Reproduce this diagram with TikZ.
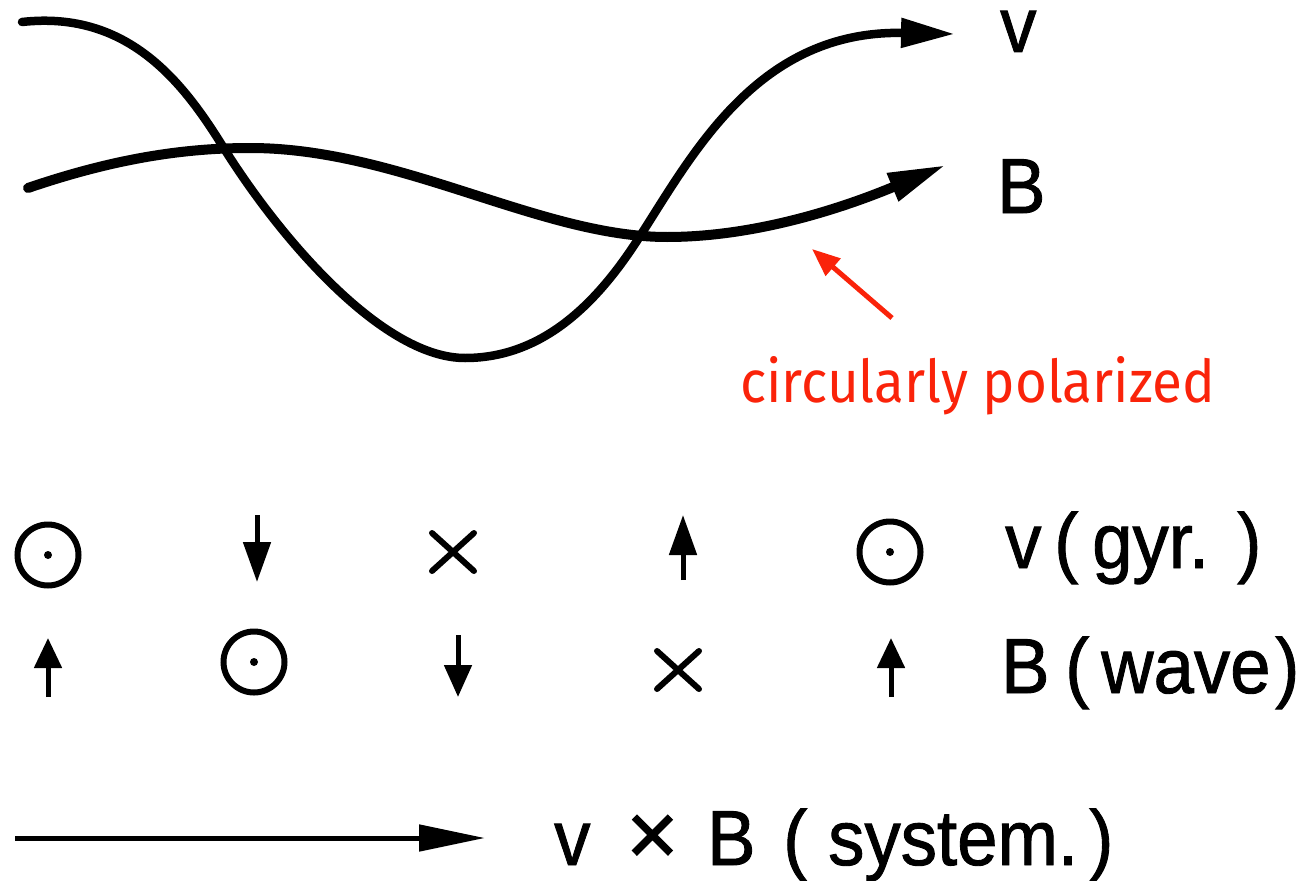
\documentclass[tikz,border=0pt]{standalone}
\usepackage{fontspec}
\setmainfont{Liberation Sans}
\newfontfamily\labfont[FakeBold=1.2]{Liberation Sans}
\newfontfamily\redfont{Fira Sans}
\usetikzlibrary{arrows.meta}
\definecolor{annot}{RGB}{250,35,10}
\newcommand\cond[1]{\scalebox{0.93}[1]{#1}}
\begin{document}
\begin{tikzpicture}[x=1pt,y=-1pt,
  wave/.style={line width=8.5pt, line cap=round, line join=round},
  bigtip/.style={-{Triangle[length=54pt,width=28pt]}},
  symarrow/.style={line width=5pt, -{Triangle[length=#1,width=27pt]}},
  symarrow/.default=38pt,
  xmark/.style={line width=6pt, line cap=round},
  dotc/.style={circle, draw, line width=6pt, minimum width=61pt, inner sep=0pt},
  lab/.style={anchor=base west, inner sep=0pt, font=\labfont\fontsize{78}{80}\selectfont},
]
\useasboundingbox (0,0) rectangle (1305,880);

% v curve
\draw[wave, bigtip] (22,22) .. controls (130,10) and (185,85) .. (225,150)
  .. controls (285,245) and (385,358) .. (465,358)
  .. controls (545,358) and (600,300) .. (642,233)
  .. controls (695,150) and (760,30) .. (955,34);
% B curve
\draw[wave, line width=10pt, -{Triangle[length=58pt,width=28pt]}] (28,188)
  .. controls (110,160) and (180,148) .. (250,148)
  .. controls (400,148) and (540,237) .. (667,237)
  .. controls (760,237) and (850,205) .. (946,165);

\node[lab] (lv) at (1000,52) {\cond{v}};
\node[lab] (lB) at (997,213) {\cond{B}};

% red annotation
\node[anchor=base west, inner sep=0pt, text=annot] (red) at (740,402)
  {\resizebox{475pt}{46pt}{\redfont circularly polarized}};
\coordinate (rs) at (892,318);
\coordinate (re) at (812,249);
\draw[annot, line width=5pt, -{Triangle[length=28pt,width=22pt]}] (rs) -- (re);

% row 1
\node[dotc] (c11) at (48,555) {};
\fill (c11.center) circle (4);
\coordinate (a12s) at (257,515); \coordinate (a12e) at (257,582);
\draw[symarrow=40pt] (a12s) -- (a12e);
\coordinate (x13) at (453,552);
\draw[xmark] (x13) +(-21,-19) -- +(21,19) +(-21,19) -- +(21,-19);
\coordinate (a14s) at (683,580); \coordinate (a14e) at (683,515);
\draw[symarrow=40pt] (a14s) -- (a14e);
\node[dotc] (c15) at (890,552) {};
\fill (c15.center) circle (4);
\node[lab] (t1a) at (1005,568) {\cond{v}};
\node[lab] (t1b) at (1054,568) {\cond{(}};
\node[lab] (t1c) at (1092,568) {\cond{gyr.}};
\node[lab] (t1d) at (1237,568) {\cond{)}};

% row 2
\coordinate (a21s) at (48,697); \coordinate (a21e) at (48,638);
\draw[symarrow=30pt] (a21s) -- (a21e);
\node[dotc] (c22) at (254,662) {};
\fill (c22.center) circle (4);
\coordinate (a23s) at (458,635); \coordinate (a23e) at (458,697);
\draw[symarrow=32pt] (a23s) -- (a23e);
\coordinate (x24) at (678,670);
\draw[xmark] (x24) +(-21,-19) -- +(21,19) +(-21,19) -- +(21,-19);
\coordinate (a25s) at (891,697); \coordinate (a25e) at (891,638);
\draw[symarrow=30pt] (a25s) -- (a25e);
\node[lab] (t2a) at (1001,693) {\cond{B}};
\node[lab] (t2b) at (1065,693) {\cond{(}};
\node[lab] (t2c) at (1101,693) {\cond{wave}};
\node[lab] (t2d) at (1275,693) {\cond{)}};

% bottom
\coordinate (bs) at (15,838); \coordinate (be) at (485,838);
\draw[line width=5pt, -{Triangle[length=66pt,width=26pt]}] (bs) -- (be);
\node[lab] (t3a) at (554,865) {\cond{v}};
\node[lab] (t3b) at (626,865) {\scalebox{1.15}{×}};
\node[lab] (t3c) at (707,865) {\cond{B}};
\node[lab] (t3d) at (783,865) {\cond{(}};
\node[lab] (t3e) at (828,865) {\cond{system.}};
\node[lab] (t3f) at (1089,865) {\cond{)}};
\end{tikzpicture}
\end{document}
